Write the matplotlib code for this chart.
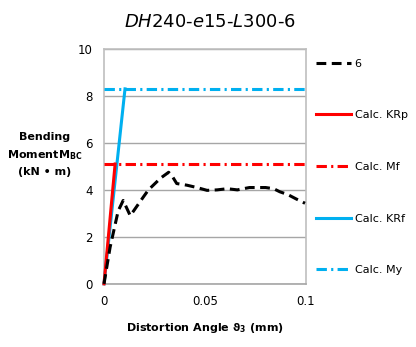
import matplotlib
matplotlib.use('Agg')
import matplotlib.pyplot as plt
import numpy as np

# test curve "6"
angle_6 = [0.0, 0.003, 0.007, 0.0095, 0.013, 0.0195, 0.022, 0.028, 0.032, 0.034, 0.036,
           0.041, 0.046, 0.051, 0.056, 0.061, 0.066, 0.072, 0.080, 0.084, 0.087, 0.091,
           0.095, 0.0995]
moment_6 = [0.0, 1.55, 3.1, 3.55, 2.9, 3.7, 4.0, 4.5, 4.75, 4.55, 4.27,
            4.2, 4.1, 3.98, 4.0, 4.05, 4.0, 4.1, 4.1, 4.05, 3.92, 3.8,
            3.62, 3.43]

# calculated lines
krp_x = [0.0, 0.0055]
krp_y = [0.0, 5.1]
mf_x = [0.0, 0.1]
mf_y = [5.1, 5.1]
krf_x = [0.0, 0.0104]
krf_y = [0.0, 8.3]
my_x = [0.0, 0.1]
my_y = [8.3, 8.3]

labels = ['6', 'Calc. KRp', 'Calc. Mf', 'Calc. KRf', 'Calc. My']
xticks = [0, 0.05, 0.1]
xtick_labels = ['0', '0.05', '0.1']
yticks = [0, 2, 4, 6, 8, 10]

RED = '#FF0000'
BLUE = '#00B0F0'

fig = plt.figure(figsize=(4.16, 3.47), dpi=100)
ax = fig.add_axes([0.25, 0.182, 0.4856, 0.677])

lw = 2.2
dashdot = (3.4, 1.4, 0.7, 1.4)
ax.plot(krf_x, krf_y, color=BLUE, lw=lw, label=labels[3], zorder=3, clip_on=False)
ax.plot(krp_x, krp_y, color=RED, lw=lw, label=labels[1], zorder=4, clip_on=False)
ax.plot(mf_x, mf_y, color=RED, lw=lw, dashes=dashdot, label=labels[2], zorder=4, clip_on=False)
ax.plot(my_x, my_y, color=BLUE, lw=lw, dashes=dashdot, label=labels[4], zorder=4, clip_on=False)
ax.plot(angle_6, moment_6, color='black', lw=lw, dashes=(3.2, 1.8), label=labels[0], zorder=5,
        clip_on=False)

ax.set_xlim(0, 0.1)
ax.set_ylim(0, 10)
ax.set_xticks(xticks)
ax.set_xticklabels(xtick_labels)
ax.set_yticks(yticks)
ax.tick_params(length=0, labelsize=8.5, pad=8)
ax.yaxis.grid(True, color='#A6A6A6', lw=1)
ax.set_axisbelow(True)
for s in ax.spines.values():
    s.set_color('#BFBFBF')
    s.set_linewidth(1.2)
ax.spines['bottom'].set_color('#A6A6A6')

fig.text(0.505, 0.937, r'$\mathit{DH}$240-$\mathit{e}$15-$\mathit{L}$300-6',
         ha='center', va='center', fontsize=13)
fig.text(0.493, 0.055, r'Distortion Angle $\mathbf{\vartheta_3}$ (mm)',
         ha='center', va='center', fontsize=8, fontweight='bold')
fig.text(0.108, 0.555, 'Bending\nMoment' + r'$\mathbf{M}_{\mathbf{BC}}$' + '\n(kN • m)',
         ha='center', va='center', fontsize=8, fontweight='bold', linespacing=1.6)

handles, labs = ax.get_legend_handles_labels()
order = [labs.index(l) for l in labels]
leg = fig.legend([handles[i] for i in order], [labs[i] for i in order],
                 loc='upper left', bbox_to_anchor=(0.735, 0.86), frameon=False,
                 fontsize=8, labelspacing=3.75, handlelength=3.2, handletextpad=0.3)

fig.savefig('out.png', dpi=100)
